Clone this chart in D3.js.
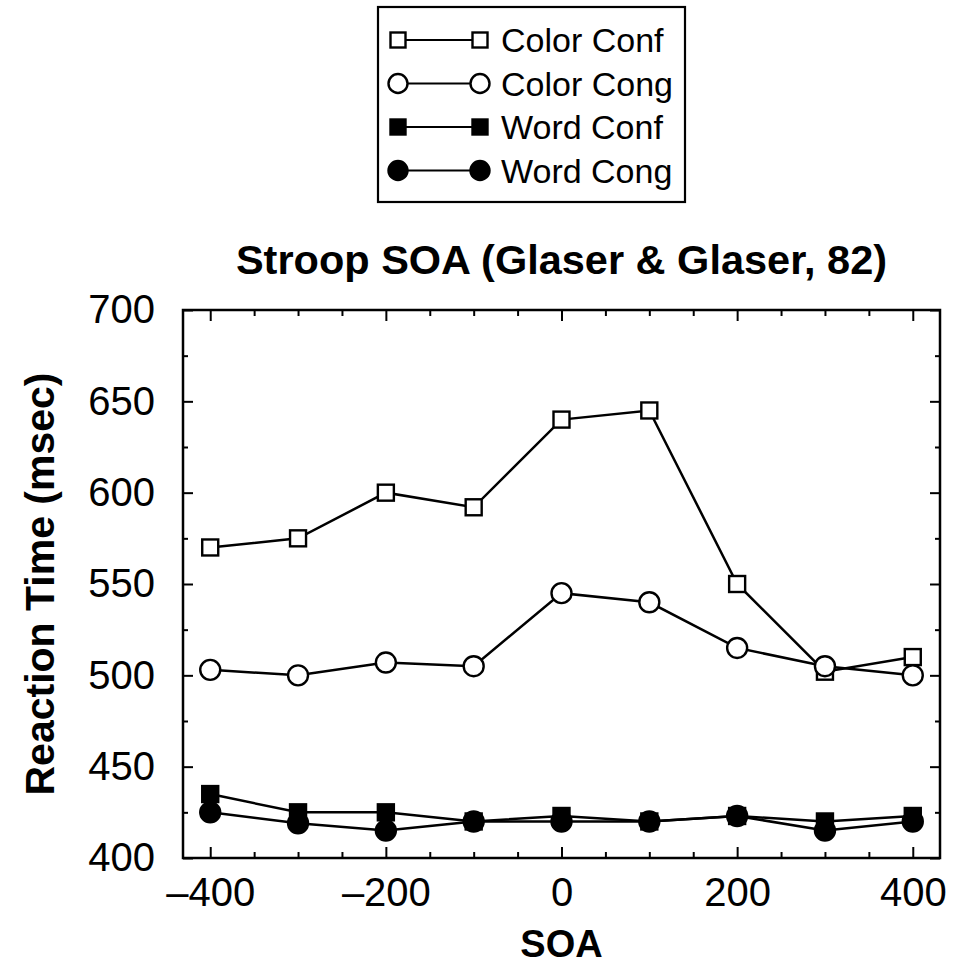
<!DOCTYPE html>
<html>
<head>
<meta charset="utf-8">
<script src="https://cdn.jsdelivr.net/npm/d3@7"></script>
<style>
  body { margin: 0; background: #fff; }
  text { font-family: "Liberation Sans", Arial, Helvetica, sans-serif; }
</style>
</head>
<body>
<script>
// data
var soa = [-400, -300, -200, -100, 0, 100, 200, 300, 400];
var colorConf = [570, 575, 600, 592, 640, 645, 550, 502, 510];
var colorCong = [503, 500, 507, 505, 545, 540, 515, 505, 500];
var wordConf = [435, 425, 425, 420, 423, 420, 423, 420, 423];
var wordCong = [425, 419, 415, 420, 420, 420, 423, 415, 420];
var seriesNames = ["Color Conf", "Color Cong", "Word Conf", "Word Cong"];
var xMajorTicks = [-400, -200, 0, 200, 400];
var yMajorTicks = [400, 450, 500, 550, 600, 650, 700];

var W = 965, H = 965;
var pLeft = 183, pRight = 940, pTop = 310, pBottom = 858;

var svg = d3.select("body").append("svg")
    .attr("width", W)
    .attr("height", H);

var xScale = d3.scaleLinear().domain([-431, 431]).range([pLeft, pRight]);
var yScale = d3.scaleLinear().domain([400, 700]).range([pBottom, pTop]);

var xMinor = d3.range(-400, 401, 50).filter(function (d) { return xMajorTicks.indexOf(d) < 0; });
var yMinor = d3.range(400, 701, 25).filter(function (d) { return yMajorTicks.indexOf(d) < 0; });

function fmt(d) {
    return d < 0 ? "\u2013" + Math.abs(d) : String(d);
}

// axes, ticks pointing inward
var axisG = svg.append("g").attr("class", "axes");

axisG.append("g")
    .attr("transform", "translate(0," + pBottom + ")")
    .call(d3.axisBottom(xScale).tickValues(xMajorTicks).tickSize(-11).tickPadding(20).tickFormat(fmt));
axisG.append("g")
    .attr("transform", "translate(0," + pBottom + ")")
    .call(d3.axisBottom(xScale).tickValues(xMinor).tickSize(-6).tickFormat(""));
axisG.append("g")
    .attr("transform", "translate(0," + pTop + ")")
    .call(d3.axisTop(xScale).tickValues(xMajorTicks).tickSize(-11).tickFormat(""));
axisG.append("g")
    .attr("transform", "translate(0," + pTop + ")")
    .call(d3.axisTop(xScale).tickValues(xMinor).tickSize(-6).tickFormat(""));

axisG.append("g")
    .attr("transform", "translate(" + pLeft + ",0)")
    .call(d3.axisLeft(yScale).tickValues(yMajorTicks).tickSize(-10).tickPadding(28).tickFormat(d3.format("d")));
axisG.append("g")
    .attr("transform", "translate(" + pLeft + ",0)")
    .call(d3.axisLeft(yScale).tickValues(yMinor).tickSize(-5).tickFormat(""));
axisG.append("g")
    .attr("transform", "translate(" + pRight + ",0)")
    .call(d3.axisRight(yScale).tickValues(yMajorTicks).tickSize(-10).tickFormat(""));
axisG.append("g")
    .attr("transform", "translate(" + pRight + ",0)")
    .call(d3.axisRight(yScale).tickValues(yMinor).tickSize(-5).tickFormat(""));

axisG.selectAll(".domain").remove();
axisG.selectAll(".tick line").attr("stroke", "#000").attr("stroke-width", 2);
axisG.selectAll(".tick text")
    .attr("fill", "#000")
    .style("font-size", "40px")
    .style("font-family", "'Liberation Sans', Arial, sans-serif");

// frame
svg.append("rect")
    .attr("x", pLeft)
    .attr("y", pTop)
    .attr("width", pRight - pLeft)
    .attr("height", pBottom - pTop)
    .attr("fill", "none")
    .attr("stroke", "#000")
    .attr("stroke-width", 2.5);

// titles
svg.append("text")
    .attr("x", (pLeft + pRight) / 2)
    .attr("y", 274)
    .attr("text-anchor", "middle")
    .style("font-size", "41.5px")
    .style("font-weight", "bold")
    .text("Stroop SOA (Glaser & Glaser, 82)");

svg.append("text")
    .attr("x", (pLeft + pRight) / 2)
    .attr("y", 957)
    .attr("text-anchor", "middle")
    .style("font-size", "38px")
    .style("font-weight", "bold")
    .text("SOA");

svg.append("text")
    .attr("transform", "translate(54," + ((pTop + pBottom) / 2) + ")rotate(-90)")
    .attr("text-anchor", "middle")
    .style("font-size", "41px")
    .style("font-weight", "bold")
    .text("Reaction Time (msec)");

// series
var series = [
    {name: seriesNames[0], values: colorConf, shape: "square", fill: "#fff"},
    {name: seriesNames[1], values: colorCong, shape: "circle", fill: "#fff"},
    {name: seriesNames[2], values: wordConf, shape: "square", fill: "#000"},
    {name: seriesNames[3], values: wordCong, shape: "circle", fill: "#000"}
];

var line = d3.line()
    .x(function (d) { return xScale(d.x); })
    .y(function (d) { return yScale(d.y); });

function drawMarker(g, s, size) {
    if (s.shape === "square") {
        g.append("rect")
            .attr("x", -size / 2)
            .attr("y", -size / 2)
            .attr("width", size)
            .attr("height", size)
            .attr("fill", s.fill)
            .attr("stroke", "#000")
            .attr("stroke-width", 2.4);
    } else {
        g.append("circle")
            .attr("r", size / 2 + 2)
            .attr("fill", s.fill)
            .attr("stroke", "#000")
            .attr("stroke-width", 2.4);
    }
}

var plotG = svg.append("g").attr("class", "plot");

series.forEach(function (s) {
    var pts = soa.map(function (x, i) { return {x: x, y: s.values[i]}; });
    var g = plotG.append("g");
    g.append("path")
        .attr("d", line(pts))
        .attr("fill", "none")
        .attr("stroke", "#000")
        .attr("stroke-width", 2.5);
    g.selectAll("g.pt")
        .data(pts)
        .enter().append("g")
        .attr("class", "pt")
        .attr("transform", function (d) {
            return "translate(" + xScale(d.x) + "," + yScale(d.y) + ")";
        })
        .each(function () { drawMarker(d3.select(this), s, 16); });
});

// legend
var legend = svg.append("g").attr("class", "legend");
legend.append("rect")
    .attr("x", 378)
    .attr("y", 7)
    .attr("width", 307)
    .attr("height", 195)
    .attr("fill", "#fff")
    .attr("stroke", "#000")
    .attr("stroke-width", 2.2);

series.forEach(function (s, i) {
    var y = 40 + i * 43.5;
    var row = legend.append("g").attr("transform", "translate(0," + y + ")");
    row.append("line")
        .attr("x1", 398)
        .attr("x2", 480)
        .attr("stroke", "#000")
        .attr("stroke-width", 2);
    var a = row.append("g").attr("transform", "translate(398,0)");
    drawMarker(a, s, 15);
    var b = row.append("g").attr("transform", "translate(480,0)");
    drawMarker(b, s, 15);
    row.append("text")
        .attr("x", 501)
        .attr("y", 0)
        .attr("dy", "0.36em")
        .style("font-size", "34px")
        .text(s.name);
});
</script>
</body>
</html>
